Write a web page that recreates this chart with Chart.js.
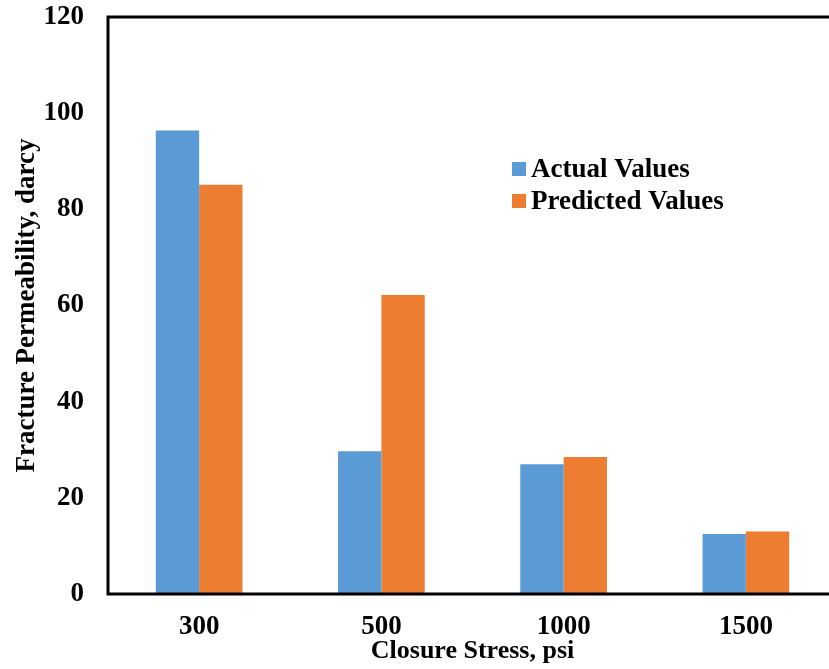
<!DOCTYPE html>
<html>
<head>
<meta charset="utf-8">
<script src="https://cdn.jsdelivr.net/npm/chart.js@4"></script>
<style>
  html, body { margin: 0; padding: 0; background: #fff; overflow: hidden; }
  #wrap { width: 840px; height: 669px; }
</style>
</head>
<body>
<div id="wrap"><canvas id="permChart" width="840" height="669"></canvas></div>
<script>
// --- DATA ---
const categories = ['300', '500', '1000', '1500'];
const actualValues = [96.4, 29.7, 27.0, 12.5];
const predictedValues = [85.1, 62.2, 28.5, 13.0];
const yMin = 0;
const yMax = 120;
const yStep = 20;

// --- STYLE ---
const COLORS = { actual: '#5B9BD5', predicted: '#ED7D31' };
const FONT = { family: "'Liberation Serif', 'Times New Roman', serif", size: 27, weight: 'bold' };
const X_TITLE_FONT = { family: FONT.family, size: 26, weight: 'bold' };

// frame round the plot area (right side runs off the canvas like the original)
const framePlugin = {
    id: 'frame',
    afterDraw(chart) {
        const { ctx, chartArea } = chart;
        ctx.save();
        ctx.strokeStyle = '#000';
        ctx.lineWidth = 3;
        ctx.strokeRect(chartArea.left, chartArea.top, chartArea.right - chartArea.left, chartArea.bottom - chartArea.top);
        ctx.restore();
    }
};

// legend drawn inside the plot, built from the datasets
const insideLegend = {
    id: 'insideLegend',
    afterDraw(chart, args, opts) {
        const ctx = chart.ctx;
        ctx.save();
        ctx.font = `${FONT.weight} ${FONT.size}px ${FONT.family}`;
        ctx.textBaseline = 'middle';
        chart.data.datasets.forEach((ds, i) => {
            const cy = opts.y + i * opts.rowGap;
            ctx.fillStyle = ds.backgroundColor;
            ctx.fillRect(opts.x, cy - opts.box / 2, opts.box, opts.box);
            ctx.fillStyle = '#000';
            ctx.fillText(ds.label, opts.x + opts.box + 5, cy + 1);
        });
        ctx.restore();
    }
};

const ctx = document.getElementById('permChart').getContext('2d');
new Chart(ctx, {
    type: 'bar',
    data: {
        labels: categories,
        datasets: [
            { label: 'Actual Values', data: actualValues, backgroundColor: COLORS.actual, borderWidth: 0 },
            { label: 'Predicted Values', data: predictedValues, backgroundColor: COLORS.predicted, borderWidth: 0 }
        ]
    },
    options: {
        responsive: false,
        animation: false,
        devicePixelRatio: 1,
        layout: { padding: { top: 17, right: 3, bottom: 0, left: 0 } },
        datasets: { bar: { categoryPercentage: 0.4757, barPercentage: 1 } },
        scales: {
            x: {
                grid: { display: false, drawTicks: false },
                border: { display: false },
                ticks: { color: '#000', font: FONT, padding: 17 },
                title: { display: true, text: 'Closure Stress, psi', color: '#000', font: X_TITLE_FONT, padding: { top: 0, bottom: 2 } },
                afterFit(scale) { scale.height = 75; scale.paddingLeft = 0; scale.paddingRight = 0; }
            },
            y: {
                min: yMin,
                max: yMax,
                grid: { display: false, drawTicks: false },
                border: { display: false },
                ticks: { stepSize: yStep, color: '#000', font: FONT, padding: 24 },
                title: { display: true, text: 'Fracture Permeability, darcy', color: '#000', font: FONT, padding: { top: 11, bottom: 0 } },
                afterFit(scale) { scale.width = 108; scale.paddingTop = 0; scale.paddingBottom = 0; }
            }
        },
        plugins: {
            legend: { display: false },
            tooltip: { enabled: false },
            insideLegend: { x: 512, y: 169, box: 14, rowGap: 32 }
        }
    },
    plugins: [framePlugin, insideLegend]
});
</script>
</body>
</html>
